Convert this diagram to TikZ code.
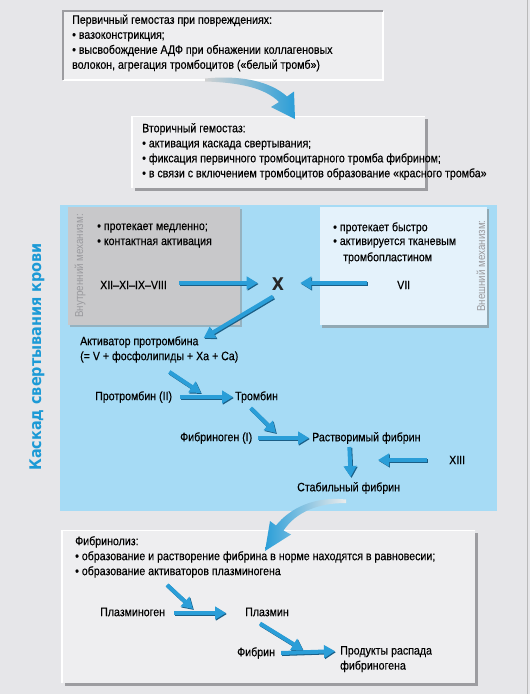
\documentclass[tikz,border=0pt]{standalone}
\usepackage{fontspec}
\setmainfont{Liberation Sans}[FakeStretch=0.87,FakeBold=0.3]
\newfontfamily\titlefont{Liberation Sans}[FakeStretch=0.85]
\newfontfamily\titlebold{DejaVu Sans Condensed}[BoldFont={DejaVu Sans Condensed Bold}]
\usetikzlibrary{arrows.meta,calc}
\definecolor{bg}{HTML}{E6E6E9}
\definecolor{boxfill}{HTML}{EEEEF0}
\definecolor{boxshadow}{HTML}{9C9CA0}
\definecolor{skyblue}{HTML}{A6DBF5}
\definecolor{innergray}{HTML}{C8C8CA}
\definecolor{outerpale}{HTML}{E4F2FB}
\definecolor{arrowblue}{HTML}{2A9ED8}
\definecolor{arrowdark}{HTML}{1A5E86}
\definecolor{titleblue}{HTML}{1C9AD6}
\definecolor{rotgray}{HTML}{9A9A9E}
\tikzset{
  txt/.style={font=\fontsize{12.2}{15}\selectfont, inner sep=0pt, text=black},
  para/.style={txt, align=left, anchor=north west},
  lbl/.style={txt, anchor=west},
  rotlbl/.style={font=\titlefont\fontsize{11.5}{12}\selectfont, text=rotgray, rotate=90, inner sep=0pt},
  barrow/.style={line width=4pt, draw=arrowblue, -{Triangle[width=12.5pt,length=11pt]},
    preaction={draw=arrowdark, line width=4pt, -{Triangle[width=12.5pt,length=11pt]},
      transform canvas={shift={(0.9pt,-1pt)}}}},
}
\begin{document}
\begin{tikzpicture}[x=1pt,y=-1pt]
\useasboundingbox (0,0) rectangle (530,694);
\fill[bg] (0,0) rectangle (530,694);
\draw[gray!55, line width=1pt] (527.5,0) -- (527.5,694);

% ---- top box (primary hemostasis)
\fill[boxfill] (62,10) rectangle (383,80);
\draw[white, line width=1.5pt] (383,11) -- (383,80) -- (63,80);
\draw[boxshadow, line width=2pt] (63,80) -- (63,11) -- (383,11);
\node[para] (prim) at (72,14.5) {Первичный гемостаз при повреждениях:\\
• вазоконстрикция;\\
• высвобождение АДФ при обнажении коллагеновых\\
волокон, агрегация тромбоцитов («белый тромб»)};

% ---- second box (secondary hemostasis)
\fill[boxshadow] (135,119) rectangle (428,191);
\fill[boxfill] (132,116) rectangle (425,188);
\draw[white, line width=1.5pt] (132,188) -- (132,116.5) -- (425,116.5);
\node[para] (sec) at (142,123) {Вторичный гемостаз:\\
• активация каскада свертывания;\\
• фиксация первичного тромбоцитарного тромба фибрином;\\
• в связи с включением тромбоцитов образование «красного тромба»};

% ---- curved arrow 1
\shade[left color=gray!35!white, right color=arrowblue]
  (205,78.5) .. controls (240,75) and (270,81) .. (287,96.5)
  -- (294,91.5) -- (295,119) -- (271,107) -- (279,102)
  .. controls (265,88) and (240,82.5) .. (205,81.5) -- cycle;

% ---- blue cascade region
\fill[skyblue] (60,205) rectangle (497,511);
\node[font=\titlebold\bfseries\fontsize{16}{20}\selectfont, text=titleblue, rotate=90, inner sep=0pt]
  (title) at (37,357) {Каскад свертывания крови};

% inner (intrinsic) gray box
\fill[gray!45!skyblue] (70,209) rectangle (242,327);
\fill[innergray] (68,207) rectangle (240,325);
\node[rotlbl] (intr) at (80,266) {Внутренний механизм:};
\node[lbl] (b1) at (97,228) {• протекает медленно;};
\node[lbl] (b2) at (97,243) {• контактная активация};
\node[lbl] (xii) at (100,285) {XII–XI–IX–VIII};

% outer (extrinsic) pale box
\fill[gray!55!skyblue] (322,209) rectangle (489,328);
\fill[outerpale] (320,207) rectangle (487,325);
\node[rotlbl] (extr) at (481,266) {Внешний механизм:};
\node[lbl] (e1) at (333,228) {• протекает быстро};
\node[lbl] (e2) at (333,243) {• активируется тканевым};
\node[lbl] (e3) at (343,258) {тромбопластином};
\node[lbl] (vii) at (397,285) {VII};

% factor X
\node[font=\titlebold\bfseries\fontsize{17.5}{18}\selectfont, text=black!85, inner sep=0pt] (X) at (278,284) {X};

\node[lbl] (act1) at (80,342) {Активатор протромбина};
\node[lbl] (act2) at (80,357) {(= V + фосфолипиды + Xa + Ca)};
\node[lbl] (pt) at (95,397) {Протромбин (II)};
\node[lbl] (tr) at (235,397) {Тромбин};
\node[lbl] (fg) at (180,438) {Фибриноген (I)};
\node[lbl] (rf) at (312,438) {Растворимый фибрин};
\node[lbl] (xiii) at (449,460) {XIII};
\node[lbl] (sf) at (297,488) {Стабильный фибрин};

\coordinate (m1) at (201,393);
\coordinate (m2) at (276,433);
\coordinate (m3) at (378,460);

\draw[barrow] ($(xii.east)+(12,-2)$) -- ($(X.west)+(-14,-1)$);
\draw[barrow] ($(vii.west)+(-30,-2)$) -- ($(X.east)+(16,-1)$);
\draw[barrow] ($(X.south)+(-5,6)$) -- ($(act1.east)+(5,-4)$);
\draw[barrow] ($(act2.south)+(10,9)$) -- (m1);
\draw[barrow] ($(pt.east)+(8,0)$) -- ($(tr.west)+(-2,0)$);
\draw[barrow] ($(tr.south)+(-6,5)$) -- (m2);
\draw[barrow] ($(fg.east)+(6,0)$) -- ($(rf.west)+(-3,0)$);
\draw[barrow] ($(rf.south)+(-17,3)$) -- ($(sf.north)+(2,-5)$);
\draw[barrow] ($(xiii.west)+(-22,0)$) -- (m3);

% ---- bottom box (fibrinolysis)
\fill[boxshadow] (65,533) rectangle (478,686);
\fill[boxfill] (62,530) rectangle (475,683);
\draw[white, line width=1.5pt] (62,683) -- (62,530.5) -- (475,530.5);

% ---- curved arrow 2
\shade[left color=arrowblue, right color=white!85!gray]
  (346,499.5) .. controls (315,496) and (290,508) .. (276,525.5)
  -- (270,521) -- (265,551) -- (291,534.5) -- (283.5,530.5)
  .. controls (296,512) and (318,503) .. (346,503) -- cycle;

\node[para] (fibr) at (75,536) {Фибринолиз:\\
• образование и растворение фибрина в норме находятся в равновесии;\\
• образование активаторов плазминогена};
\node[lbl] (pg) at (100,612) {Плазминоген};
\node[lbl] (pm) at (245,612) {Плазмин};
\node[lbl] (fb) at (237,653) {Фибрин};
\node[para] (prod) at (340,646) {Продукты распада\\фибриногена};

\coordinate (m4) at (193,609);
\coordinate (m5) at (303,650);
\draw[barrow] ($(fibr.south west)+(92,7)$) -- (m4);
\draw[barrow] ($(pg.east)+(9,1)$) -- ($(pm.west)+(-19,1)$);
\draw[barrow] ($(pm.south)+(-7,7)$) -- (m5);
\draw[barrow] ($(fb.east)+(6,0)$) -- ($(prod.west)+(-5,-8)$);
\end{tikzpicture}
\end{document}
